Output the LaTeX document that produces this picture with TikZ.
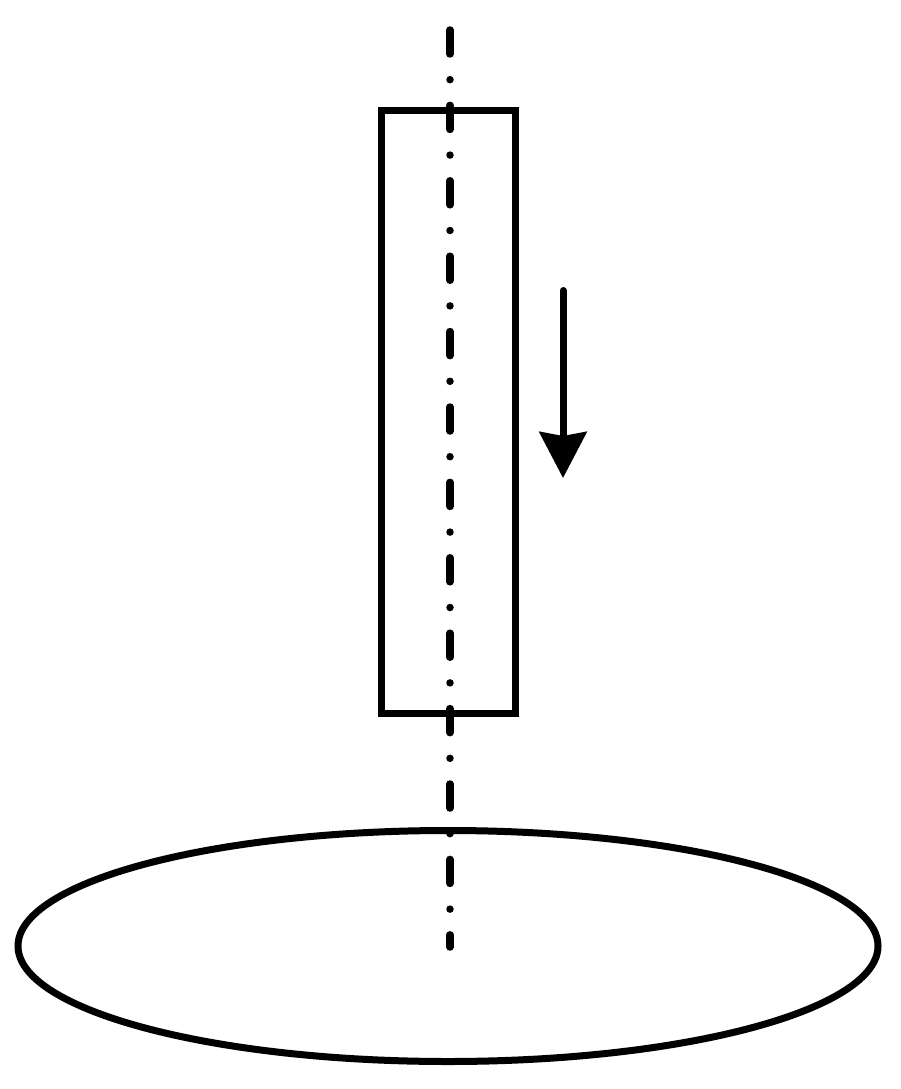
\documentclass[tikz,border=0pt]{standalone}
\usetikzlibrary{arrows.meta,shapes.geometric}
\begin{document}
\begin{tikzpicture}[x=1pt,y=-1pt,
  outline/.style={draw=black,line width=7pt,inner sep=0pt,outer sep=0pt},
  axisline/.style={line width=7.5pt,line cap=round,dash pattern=on 24pt off 25.7pt on 0pt off 25.7pt},
  motion/.style={line width=7pt,line cap=round,-{Stealth[length=46pt,width=47pt,inset=4pt]}}]
\useasboundingbox (0,0) rectangle (900,1089);
\node[outline,minimum width=134pt,minimum height=603pt] (bar) at (448.5,412) {};
\node[outline,ellipse,minimum width=860pt,minimum height=231pt] (disk) at (448,946) {};
\coordinate (axtop) at (450,30);
\coordinate (axbot) at (450,947);
\draw[axisline] (axtop) -- (axbot);
\coordinate (mstart) at (563,290.5);
\coordinate (mend) at (563,478);
\draw[motion] (mstart) -- (mend);
\end{tikzpicture}
\end{document}
